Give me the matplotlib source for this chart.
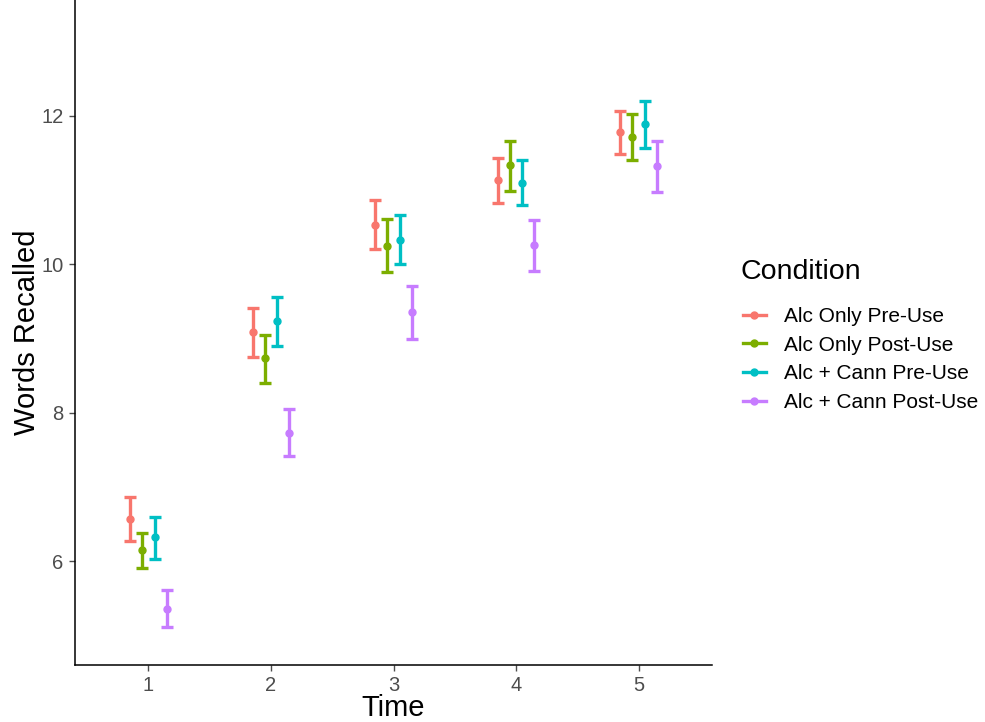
import numpy as np
import matplotlib.pyplot as plt
from matplotlib.lines import Line2D

plt.rcParams['font.family'] = ['Liberation Sans', 'DejaVu Sans']

times = [1, 2, 3, 4, 5]
conditions = ['Alc Only Pre-Use', 'Alc Only Post-Use', 'Alc + Cann Pre-Use', 'Alc + Cann Post-Use']
colors = ['#F8766D', '#7CAE00', '#00BFC4', '#C77CFF']

# means and lower/upper bounds per condition
alc_pre = [6.57, 9.08, 10.53, 11.14, 11.78]
alc_pre_lo = [6.27, 8.75, 10.20, 10.83, 11.49]
alc_pre_hi = [6.86, 9.41, 10.86, 11.43, 12.07]

alc_post = [6.15, 8.74, 10.25, 11.33, 11.72]
alc_post_lo = [5.91, 8.40, 9.89, 10.99, 11.40]
alc_post_hi = [6.38, 9.05, 10.61, 11.66, 12.03]

cann_pre = [6.33, 9.24, 10.33, 11.10, 11.89]
cann_pre_lo = [6.03, 8.90, 10.00, 10.80, 11.56]
cann_pre_hi = [6.60, 9.56, 10.66, 11.40, 12.20]

cann_post = [5.36, 7.73, 9.35, 10.26, 11.32]
cann_post_lo = [5.11, 7.41, 8.99, 9.91, 10.97]
cann_post_hi = [5.61, 8.05, 9.71, 10.60, 11.66]

means = [alc_pre, alc_post, cann_pre, cann_post]
lows = [alc_pre_lo, alc_post_lo, cann_pre_lo, cann_post_lo]
highs = [alc_pre_hi, alc_post_hi, cann_pre_hi, cann_post_hi]
offsets = [-0.15, -0.05, 0.05, 0.15]

fig = plt.figure(figsize=(9.85, 7.22), dpi=100)
ax = fig.add_axes([0.076, 0.079, 0.647, 0.921])

for m, lo, hi, off, c in zip(means, lows, highs, offsets, colors):
    m = np.array(m)
    x = np.array(times) + off
    yerr = [m - np.array(lo), np.array(hi) - m]
    ax.errorbar(x, m, yerr=yerr, fmt='o', color=c, ecolor=c, markersize=5,
                elinewidth=2.4, capsize=4.5, capthick=2.4)

ax.set_xlim(0.4, 5.6)
ax.set_ylim(4.6, 13.56)
ax.set_xticks(times)
ax.set_yticks([6, 8, 10, 12])
for s in ['top', 'right']:
    ax.spines[s].set_visible(False)
for s in ['left', 'bottom']:
    ax.spines[s].set_linewidth(1.1)
    ax.spines[s].set_color('black')
ax.tick_params(axis='both', labelsize=14.5, colors='#4D4D4D', length=4, width=1, pad=4)
ax.set_xlabel('Time', fontsize=21, labelpad=-1)
ax.set_ylabel('Words Recalled', fontsize=21, labelpad=0)

# legend title drawn separately so the gap to the keys matches
fig.text(741 / 985, 1 - 272 / 722, 'Condition', fontsize=20.5, ha='left', va='center')
handles = [Line2D([0], [0], color=c, lw=2.4, marker='o', markersize=5) for c in colors]
leg = fig.legend(handles, conditions, loc='center left', bbox_to_anchor=(743 / 985, 1 - 359.5 / 722),
                 frameon=False, fontsize=15, borderpad=0, borderaxespad=0,
                 handlelength=1.1, handletextpad=0.85, labelspacing=0.47)

fig.savefig('out.png', dpi=100)
